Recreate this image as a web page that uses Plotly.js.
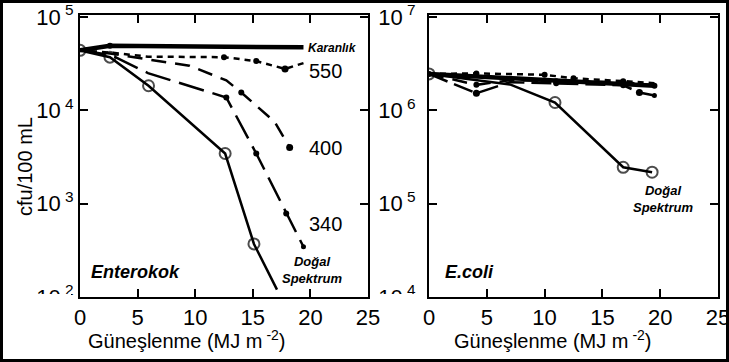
<!DOCTYPE html>
<html>
<head>
<meta charset="utf-8">
<script src="https://cdn.plot.ly/plotly-3.0.1.min.js"></script>
<style>html,body{margin:0;padding:0;background:#fff;}#chart{width:729px;height:362px;}</style>
</head>
<body>
<div id="chart"></div>
<script>
// ---------- data ----------
const xTicks = [0, 5, 10, 15, 20, 25];
const entYTickVals = [100, 1000, 10000, 100000];
const entYTickText = ['10<sup> 2</sup>', '10<sup> 3</sup>', '10<sup> 4</sup>', '10<sup> 5</sup>'];
const ecoYTickVals = [10000, 100000, 1000000, 10000000];
const ecoYTickText = ['10<sup> 4</sup>', '10<sup> 5</sup>', '10<sup> 6</sup>', '10<sup> 7</sup>'];

// Enterokok (left panel)
const entKaranlikX = [0, 2.6, 19.4];
const entKaranlikY = [43800, 49000, 47200];
const ent550X = [0, 2.6, 5.9, 12.5, 15.3, 17.8, 19.4];
const ent550Y = [43800, 41500, 37500, 37000, 33600, 27700, 32000];
const ent400X = [0, 2.6, 5.9, 9.5, 12.7, 14.0, 16.9, 18.2];
const ent400Y = [43800, 40500, 35000, 30000, 20900, 15500, 7500, 4000];
const ent340X = [0, 2.7, 5.9, 12.7, 15.3, 17.9, 19.4];
const ent340Y = [43800, 39000, 25000, 13700, 3440, 785, 345];
const entDogalX = [0, 2.6, 5.95, 12.6, 15.1, 17.1];
const entDogalY = [43800, 37000, 18300, 3440, 370, 120];

// E.coli (right panel)
const ecoKaranlikX = [0, 19.5];
const ecoKaranlikY = [2450000, 1830000];
const eco550X = [0, 4.1, 10.0, 12.5, 16.8, 19.5];
const eco550Y = [2450000, 2480000, 2400000, 2200000, 2050000, 1950000];
const eco400X = [0, 4.1, 7.0, 11.0, 16.8, 19.5];
const eco400Y = [2450000, 1870000, 2100000, 2050000, 2000000, 1850000];
const eco340X = [0, 4.1, 7.0, 11.0, 16.8, 18.2, 19.5];
const eco340Y = [2450000, 1520000, 2000000, 1950000, 1850000, 1550000, 1440000];
const ecoDogalX = [0, 7.0, 10.9, 16.8, 19.3];
const ecoDogalY = [2450000, 1890000, 1210000, 245000, 217000];

// ---------- styling ----------
const FONT = 'Liberation Sans, Arial, Helvetica, sans-serif';
function dashTrace(x, y, xa, ya, dash, width, msize) {
  return {x: x, y: y, xaxis: xa, yaxis: ya, type: 'scatter', mode: 'lines+markers',
    line: {color: '#000', width: width, dash: dash},
    marker: {color: '#000', size: msize, symbol: 'circle', opacity: 1, line: {width: 0, color: '#000'}},
    hoverinfo: 'skip'};
}
function circleTrace(x, y, xa, ya, sizes) {
  return {x: x, y: y, xaxis: xa, yaxis: ya, type: 'scatter', mode: 'lines+markers',
    line: {color: '#000', width: 2.5},
    marker: {color: '#000', size: sizes, symbol: 'circle-open', line: {color: '#000', width: 2}},
    hoverinfo: 'skip'};
}

const traces = [
  dashTrace(entKaranlikX, entKaranlikY, 'x', 'y', 'solid', 4.5, [0, 6, 0]),
  dashTrace(ent550X, ent550Y, 'x', 'y', '6px,5px', 2.5, [0, 0, 0, 6, 6, 7, 0]),
  dashTrace(ent400X, ent400Y, 'x', 'y', '15px,9px', 2.5, [0, 0, 0, 0, 0, 6, 0, 7]),
  dashTrace(ent340X, ent340Y, 'x', 'y', '26px,9px', 2.5, [0, 0, 0, 6, 6, 6, 5]),
  circleTrace(entDogalX, entDogalY, 'x', 'y', [11, 11, 11, 11, 11, 0]),
  dashTrace(ecoKaranlikX, ecoKaranlikY, 'x2', 'y2', 'solid', 4.5, 0),
  dashTrace(eco550X, eco550Y, 'x2', 'y2', '6px,5px', 2.5, [0, 6, 6, 6, 6, 0]),
  dashTrace(eco400X, eco400Y, 'x2', 'y2', '15px,9px', 2.5, [0, 6, 0, 6, 6, 0]),
  dashTrace(eco340X, eco340Y, 'x2', 'y2', '20px,7px', 2.5, [0, 7, 0, 6, 6, 7, 5]),
  circleTrace(ecoDogalX, ecoDogalY, 'x2', 'y2', [11, 0, 11, 11, 11])
];

function xAxis(domain, anchor) {
  return {domain: domain, anchor: anchor, range: [0, 25], tickvals: xTicks, ticktext: xTicks.map(String),
    ticks: 'inside', ticklen: 8, tickwidth: 2, tickcolor: '#000', mirror: 'ticks', showline: true,
    linecolor: '#000', linewidth: 2, showgrid: false, zeroline: false, ticklabeloverflow: 'allow',
    tickfont: {family: FONT, size: 22, color: '#000'}, fixedrange: true};
}
function yAxis(domain, anchor, range, vals, text, standoff) {
  return {domain: domain, anchor: anchor, type: 'log', range: range, tickvals: vals, ticktext: text,
    ticks: 'inside', ticklen: 8, tickwidth: 2, tickcolor: '#000', mirror: 'ticks', showline: true,
    linecolor: '#000', linewidth: 2, showgrid: false, zeroline: false, ticklabelstandoff: standoff,
    ticklabeloverflow: 'allow',
    tickfont: {family: FONT, size: 22, color: '#000'}, fixedrange: true};
}

const W = 729, H = 362;
const px = v => v / W, py = v => 1 - v / H;
const yDom = [py(297), py(15)];

const annFont = (size, style) => ({family: FONT, size: size, color: '#000', style: style || 'normal', weight: style ? 'bold' : 'normal'});

const annotations = [
  {xref: 'x', yref: 'y', x: 19.6, y: 4.67, text: 'Karanlık', showarrow: false, xanchor: 'left', yanchor: 'middle', font: annFont(12, 'italic')},
  {xref: 'x', yref: 'y', x: 21.35, y: 4.415, text: '550', showarrow: false, xanchor: 'center', yanchor: 'middle', font: annFont(20)},
  {xref: 'x', yref: 'y', x: 21.3, y: 3.596, text: '400', showarrow: false, xanchor: 'center', yanchor: 'middle', font: annFont(20)},
  {xref: 'x', yref: 'y', x: 21.35, y: 2.787, text: '340', showarrow: false, xanchor: 'center', yanchor: 'middle', font: annFont(20)},
  {xref: 'x', yref: 'y', x: 20.1, y: 2.287, text: 'Doğal<br>Spektrum', showarrow: false, xanchor: 'center', yanchor: 'middle', font: annFont(13, 'italic')},
  {xref: 'x', yref: 'y', x: 0.8, y: 2.27, text: 'Enterokok', showarrow: false, xanchor: 'left', yanchor: 'middle', font: annFont(18, 'italic')},
  {xref: 'x2', yref: 'y2', x: 1.2, y: 4.27, text: 'E.coli', showarrow: false, xanchor: 'left', yanchor: 'middle', font: annFont(18, 'italic')},
  {xref: 'x2', yref: 'y2', x: 20.2, y: 5.05, text: 'Doğal<br>Spektrum', showarrow: false, xanchor: 'center', yanchor: 'middle', font: annFont(13, 'italic')},
  {xref: 'paper', yref: 'paper', x: px(187), y: py(339), text: 'Güneşlenme (MJ m<sup> -2</sup>)', showarrow: false, xanchor: 'center', yanchor: 'middle', font: annFont(20)},
  {xref: 'paper', yref: 'paper', x: px(553), y: py(339), text: 'Güneşlenme (MJ m<sup> -2</sup>)', showarrow: false, xanchor: 'center', yanchor: 'middle', font: annFont(20)},
  {xref: 'paper', yref: 'paper', x: px(25), y: py(167), text: 'cfu/100 mL', showarrow: false, textangle: -90, xanchor: 'center', yanchor: 'middle', font: annFont(20)}
];

const shapes = [
  // white masks that clip the lowest y tick labels, as in the original figure
  {type: 'rect', xref: 'paper', yref: 'paper', x0: px(28), x1: px(71), y0: py(306), y1: py(294), fillcolor: '#fff', line: {width: 0}, layer: 'above'},
  {type: 'rect', xref: 'paper', yref: 'paper', x0: px(374), x1: px(421), y0: py(306), y1: py(294), fillcolor: '#fff', line: {width: 0}, layer: 'above'},
  // outer frame of the figure
  {type: 'rect', xref: 'paper', yref: 'paper', x0: px(1.5), x1: px(727.5), y0: py(360.5), y1: py(1.5), fillcolor: 'rgba(0,0,0,0)', line: {color: '#000', width: 3}, layer: 'above'}
];

const layout = {
  width: W, height: H, margin: {l: 0, r: 0, t: 0, b: 0},
  paper_bgcolor: '#fff', plot_bgcolor: '#fff', showlegend: false,
  font: {family: FONT, color: '#000'},
  xaxis: xAxis([px(80), px(368)], 'y'),
  yaxis: yAxis(yDom, 'x', [2, 5.02], entYTickVals, entYTickText, 0),
  xaxis2: xAxis([px(429), px(718)], 'y2'),
  yaxis2: yAxis(yDom, 'x2', [4, 7.02], ecoYTickVals, ecoYTickText, 7),
  annotations: annotations, shapes: shapes
};

Plotly.newPlot('chart', traces, layout, {staticPlot: true, displayModeBar: false});
</script>
</body>
</html>
